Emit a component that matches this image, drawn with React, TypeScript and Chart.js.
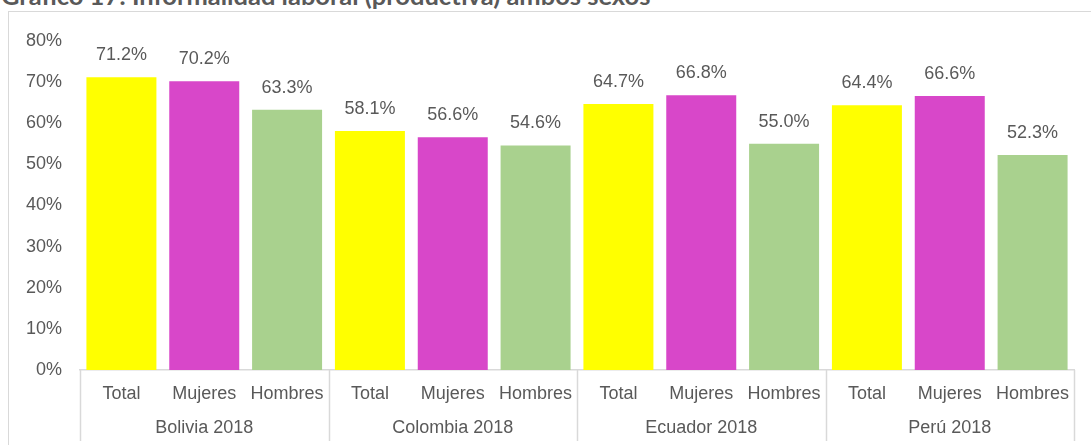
import React, { useEffect, useRef } from "react";
import { Chart, registerables } from "chart.js";

Chart.register(...registerables);

const title = "Gráfico 17: Informalidad laboral (productiva) ambos sexos";
const groups = ["Bolivia 2018", "Colombia 2018", "Ecuador 2018", "Perú 2018"];
const subcats = ["Total", "Mujeres", "Hombres"];
const subColors = ["#FFFF00", "#D847C9", "#A9D18E"];
const bolivia = [71.2, 70.2, 63.3];
const colombia = [58.1, 56.6, 54.6];
const ecuador = [64.7, 66.8, 55.0];
const peru = [64.4, 66.6, 52.3];
const yTicks = [0, 10, 20, 30, 40, 50, 60, 70, 80];

const TEXT = "#595959";
const LINE = "#D9D9D9";
const FONT = "'Liberation Sans', Arial, sans-serif";

export default function App() {
  const ref = useRef<HTMLCanvasElement | null>(null);

  useEffect(() => {
    if (!ref.current) return;
    const values = [...bolivia, ...colombia, ...ecuador, ...peru];
    const labels: string[] = [];
    const colors: string[] = [];
    groups.forEach(() => {
      subcats.forEach((s, i) => {
        labels.push(s);
        colors.push(subColors[i]);
      });
    });

    const valueLabels = {
      id: "valueLabels",
      afterDatasetsDraw(chart: any) {
        const ctx = chart.ctx;
        const meta = chart.getDatasetMeta(0);
        ctx.save();
        ctx.fillStyle = TEXT;
        ctx.font = `18px ${FONT}`;
        ctx.textAlign = "center";
        ctx.textBaseline = "middle";
        meta.data.forEach((bar: any, i: number) => {
          ctx.fillText(values[i].toFixed(1) + "%", bar.x, bar.y - 22);
        });
        ctx.restore();
      },
    };

    const groupAxis = {
      id: "groupAxis",
      afterDraw(chart: any) {
        const ctx = chart.ctx;
        const xs = chart.scales.x;
        const step = xs.getPixelForTick(1) - xs.getPixelForTick(0);
        const top = chart.chartArea.bottom;
        ctx.save();
        ctx.strokeStyle = LINE;
        ctx.lineWidth = 1.5;
        const n = subcats.length;
        for (let g = 0; g <= groups.length; g++) {
          const x =
            g < groups.length
              ? xs.getPixelForTick(g * n) - step / 2
              : xs.getPixelForTick(g * n - 1) + step / 2;
          ctx.beginPath();
          ctx.moveTo(Math.round(x) + 0.5, top);
          ctx.lineTo(Math.round(x) + 0.5, 441);
          ctx.stroke();
        }
        ctx.fillStyle = TEXT;
        ctx.font = `18px ${FONT}`;
        ctx.textAlign = "center";
        ctx.textBaseline = "middle";
        groups.forEach((g, gi) => {
          const cx = (xs.getPixelForTick(gi * n) + xs.getPixelForTick(gi * n + n - 1)) / 2;
          ctx.fillText(g, cx, 428);
        });
        ctx.restore();
      },
    };

    const chart = new Chart(ref.current, {
      type: "bar",
      data: {
        labels,
        datasets: [
          {
            data: values,
            backgroundColor: colors,
            barPercentage: 0.845,
            categoryPercentage: 1,
          },
        ],
      },
      options: {
        animation: false,
        responsive: false,
        events: [],
        layout: { padding: { left: 8, right: 17, top: 41, bottom: 0 } },
        plugins: {
          legend: { display: false },
          tooltip: { enabled: false },
          title: { display: false },
        },
        scales: {
          y: {
            min: 0,
            max: 80,
            afterBuildTicks: (scale: any) => {
              scale.ticks = yTicks.map((v) => ({ value: v }));
            },
            afterFit: (scale: any) => {
              scale.width = 72;
            },
            ticks: {
              color: TEXT,
              font: { size: 18, family: FONT },
              padding: 18,
              callback: (v: any) => v + "%",
            },
            grid: { display: false, drawTicks: false },
            border: { display: false },
          },
          x: {
            afterFit: (scale: any) => {
              scale.height = 75;
            },
            ticks: {
              color: TEXT,
              font: { size: 18, family: FONT },
              padding: 13,
              maxRotation: 0,
              autoSkip: false,
            },
            grid: { display: false, drawTicks: false },
            border: { display: true, color: LINE, width: 1.5 },
          },
        },
      },
      plugins: [valueLabels, groupAxis],
    });
    return () => chart.destroy();
  }, []);

  return (
    <div style={{ position: "absolute", left: 0, top: 0, width: 1091, height: 445, overflow: "hidden", background: "#fff" }}>
      <div
        style={{
          position: "absolute",
          left: 1,
          top: -17,
          font: `bold 25.5px Lato, sans-serif`,
          lineHeight: "25.5px",
          color: TEXT,
          whiteSpace: "nowrap",
        }}
      >
        {title}
      </div>
      <div
        style={{
          position: "absolute",
          left: 8,
          top: 11,
          width: 1200,
          height: 600,
          border: `1.5px solid ${LINE}`,
        }}
      />
      <canvas ref={ref} width={1091} height={445} style={{ position: "absolute", left: 0, top: 0 }} />
    </div>
  );
}
